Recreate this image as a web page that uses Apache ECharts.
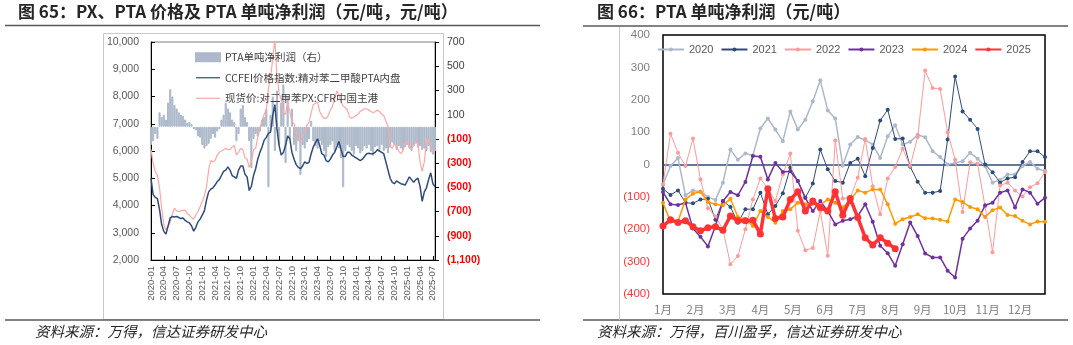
<!DOCTYPE html>
<html><head><meta charset="utf-8">
<script src="https://cdn.jsdelivr.net/npm/echarts@6/dist/echarts.min.js"></script>
<style>html,body{margin:0;padding:0;background:#fff}#c{width:1073px;height:345px}</style>
</head><body><div id="c"></div>
<script>
// ---------- Left chart (图65) : half-month steps from 2020-01 ----------
const leftTickLabels = ['2020-01','2020-04','2020-07','2020-10','2021-01','2021-04','2021-07','2021-10','2022-01','2022-04','2022-07','2022-10','2023-01','2023-04','2023-07','2023-10','2024-01','2024-04','2024-07','2024-10','2025-01','2025-04','2025-07'];
const ptaPrice = [5000,4400,4300,4250,3850,3300,3050,2950,3250,3550,
3600,3580,3600,3560,3520,3540,3450,3400,3360,3250,
3060,3200,3400,3500,3650,3800,4200,4500,4600,4650,
4750,4880,4950,5100,5250,5300,5420,5300,5100,5050,
5000,5300,5450,5450,5150,5050,4550,4700,5100,5350,
5700,5950,6150,6400,6500,6650,6700,7300,7700,6800,
6200,5850,5950,6200,6550,6450,5950,5700,5500,5400,
5350,5450,5600,5550,5580,5900,6150,6300,6450,6200,
5900,5850,5650,5600,5700,5850,5950,6150,6350,6050,
5800,5800,5950,5950,5850,5800,5750,5700,5650,5700,
5800,5900,5920,5900,5900,5950,6050,6000,5950,5900,
5600,5300,5000,4850,4800,4900,4850,4800,4780,4750,
4900,5050,4950,4850,4950,5000,4700,4150,4500,4650,
4950,5200,4800,4700];
const pxPrice = [6050,5550,5250,5100,4650,3900,3300,3100,3250,3400,
3700,3900,3800,3780,3800,3820,3830,3700,3650,3550,
3500,3650,3780,3950,4150,4350,4700,5300,5650,5600,
5650,5850,5950,6000,6050,6100,6050,6050,6150,6200,
5850,5950,6100,6050,5750,5700,5400,5600,6050,6100,
6500,6850,7100,7350,7500,8300,8700,9400,10100,8800,
8100,7900,7400,7350,7800,7450,7100,7000,6700,6400,
6350,6600,6750,6950,7050,7400,7700,7750,7800,7450,
7300,7200,7200,7300,7500,7650,7900,8200,8050,7800,
7650,7600,7500,7250,7200,7250,7300,7350,7450,7500,
7550,7550,7500,7450,7400,7450,7500,7450,7350,7300,
7100,6900,6150,6100,6250,6200,6000,5900,6000,6300,
6350,6200,6100,6200,6350,6300,5600,5250,5600,6450,
6400,6200,6000,6050];
const ptaProfit = [-150,-120,-60,-100,120,80,100,60,200,310,
250,180,150,120,100,90,60,30,40,20,
-20,-30,-80,-90,-150,-180,-160,-140,-100,-60,
-90,-40,-20,60,100,200,150,120,60,40,
-120,-60,150,180,80,40,-120,-340,-100,-60,
-80,-40,60,80,150,-500,100,250,-200,300,
-150,200,350,-300,250,-100,150,-150,-200,-120,
-400,-150,-180,-130,-100,50,-120,-160,-180,-120,
-150,-200,-250,-170,-150,-120,-200,-150,-180,-260,
-500,-200,-150,-170,-200,-230,-160,-180,-220,-200,
-160,-180,-150,-200,-240,-170,-160,-190,-150,-200,
-180,-220,-170,-130,-150,-190,-160,-180,-200,-170,
-150,-180,-200,-160,-140,-170,-160,-190,-180,-200,
-160,-210,-230,-200];
// half-month period labels (2020-01a, 2020-01b, ...)
const halfMonthPeriods = ptaProfit.map((_, i) => (2020 + Math.floor(i / 24)) + '-' + String(Math.floor(i / 2) % 12 + 1).padStart(2, '0') + (i % 2 ? 'b' : 'a'));

// ---------- Right chart (图66) : weekly ----------
const monthLabels = ['1月','2月','3月','4月','5月','6月','7月','8月','9月','10月','11月','12月'];
const yearNames = ['2020','2021','2022','2023','2024','2025'];
const y2020 = [-62,-5,20,-95,-80,-84,-100,-110,-56,46,15,34,28,111,142,108,72,164,108,138,195,260,167,142,-3,62,85,75,62,20,87,121,62,70,92,84,41,23,0,5,10,36,18,-5,-56,-48,-31,-31,-5,8,-13,-20];
const y2021 = [-75,-94,-80,-118,-120,-108,-106,-171,-113,-131,-180,-138,-138,-87,-154,-128,-89,-10,-51,-103,-59,46,-15,-51,-56,5,18,-36,51,136,169,79,80,-7,-53,-87,-87,-82,77,272,164,138,110,0,-24,-56,-43,-39,8,41,41,23];
const y2022 = [-62,95,36,-5,80,-46,-135,-160,-200,-308,-283,-200,-108,-43,-75,-113,-31,34,-205,-265,-258,-144,-282,74,-105,-103,-41,79,-67,-154,-43,-8,49,-5,85,290,236,233,100,15,-147,7,2,-130,-271,-65,-56,-80,-99,-70,-58,-24];
const y2023 = [-85,-123,-125,-118,-198,-223,-253,-190,-113,-85,-95,-54,26,24,-46,5,-23,-21,-51,-103,-144,-113,-144,-185,-174,-169,-159,-123,-177,-251,-274,-313,-246,-179,-221,-275,-287,-287,-328,-349,-229,-198,-174,-126,-118,-87,-80,-133,-77,-87,-121,-103];
const y2024 = [-118,-177,-176,-108,-90,-84,-116,-123,-126,-106,-162,-169,-190,-144,-162,-180,-144,-138,-118,-123,-121,-125,-108,-118,-133,-110,-80,-87,-77,-77,-123,-183,-169,-162,-154,-166,-167,-171,-176,-108,-116,-131,-138,-162,-141,-133,-156,-159,-174,-185,-176,-177];
const y2025 = [-190,-171,-179,-174,-192,-205,-195,-192,-203,-159,-174,-174,-172,-215,-75,-167,-162,-108,-84,-144,-113,-133,-144,-84,-157,-105,-164,-226,-249,-226,-243,-260];

const FONT = '"Liberation Sans","Noto Sans CJK SC",sans-serif';
const CJK = '"Noto Sans CJK SC",sans-serif';
const half = arr => arr.map((v, i) => [i * 0.5, v]);
const weekly = arr => arr.map((v, i) => [i, v]);
const fmtNum = v => String(Math.abs(v)).replace(/\B(?=(\d{3})+(?!\d))/g, ',');
const step = 52 / 12;
const THIN = 'path://M0,0H40V2H0Z';

const chart = echarts.init(document.getElementById('c'), null, {renderer: 'canvas'});

const rightStyles = [
  {color: '#adb9ca', width: 1.5, size: 4},
  {color: '#2f4b7c', width: 1, size: 4},
  {color: '#ff9a9a', width: 1, size: 4},
  {color: '#7030a0', width: 1.5, size: 4},
  {color: '#ff9900', width: 1.5, size: 4},
  {color: '#ff3333', width: 3.5, size: 7}
];
const rightData = [y2020, y2021, y2022, y2023, y2024, y2025];

const rightSeries = rightData.map((arr, k) => ({
  type: 'line', name: yearNames[k], xAxisIndex: 1, yAxisIndex: 2,
  data: weekly(arr), symbol: 'circle', symbolSize: rightStyles[k].size,
  lineStyle: {color: rightStyles[k].color, width: rightStyles[k].width},
  itemStyle: {color: rightStyles[k].color},
  z: 3 + k,
  markLine: k === 0 ? {silent: true, symbol: 'none', label: {show: false},
    lineStyle: {color: '#2f4b7c', width: 1.5, type: 'solid'}, data: [{yAxis: 0}], z: 2} : undefined
}));

const option = {
  animation: false,
  backgroundColor: '#fff',
  textStyle: {fontFamily: FONT},
  grid: [
    {left: 151, top: 42, width: 284, height: 218, show: true, borderColor: '#7f7f7f', borderWidth: 1},
    {left: 663, top: 35, width: 382, height: 259, show: true, borderColor: '#000', borderWidth: 1.5}
  ],
  legend: [
    {orient: 'vertical', left: 190, top: 47, itemWidth: 24, itemHeight: 8, itemGap: 10,
     textStyle: {fontSize: 10.5, color: '#404040', fontFamily: CJK},
     data: [{name: 'PTA单吨净利润（右）', icon: 'rect'},
            {name: 'CCFEI价格指数:精对苯二甲酸PTA内盘', icon: THIN},
            {name: '现货价:对二甲苯PX:CFR中国主港', icon: THIN}]},
    {orient: 'horizontal', left: 652, top: 39, itemWidth: 26, itemHeight: 5, itemGap: 7,
     textStyle: {fontSize: 11, color: '#595959', fontFamily: FONT},
     data: yearNames}
  ],
  xAxis: [
    {type: 'value', gridIndex: 0, min: 0, max: 66.5, interval: 3,
     axisLine: {show: true, onZero: false, lineStyle: {color: '#000', width: 1}},
     axisTick: {show: true, inside: true, length: 4, lineStyle: {color: '#000'}},
     splitLine: {show: false},
     axisLabel: {rotate: 90, fontSize: 9.5, color: '#595959', margin: 6, showMaxLabel: false,
       formatter: v => (Math.abs(v % 3) < 1e-6 ? (leftTickLabels[Math.round(v / 3)] || '') : '')}},
    {type: 'value', gridIndex: 1, min: 0, max: 51, interval: step,
     axisLine: {show: false, onZero: false}, axisTick: {show: false}, splitLine: {show: false},
     axisLabel: {fontSize: 11.5, color: '#808080', margin: 10, fontFamily: CJK, showMaxLabel: false,
       formatter: v => {const i = Math.round(v / step); return (Math.abs(v - i * step) < 0.1 && i < 12) ? monthLabels[i] : '';}}},
    {type: 'category', gridIndex: 0, data: halfMonthPeriods, boundaryGap: false, show: false}
  ],
  yAxis: [
    {type: 'value', gridIndex: 0, min: 2000, max: 10000, interval: 1000,
     axisLine: {show: true, lineStyle: {color: '#000'}},
     axisTick: {show: true, inside: true, length: 4, lineStyle: {color: '#000'}},
     splitLine: {show: false},
     axisLabel: {fontSize: 10.5, color: '#595959', margin: 12, formatter: v => fmtNum(v)}},
    {type: 'value', gridIndex: 0, position: 'right', min: -1100, max: 700, interval: 200,
     axisLine: {show: true, lineStyle: {color: '#000'}},
     axisTick: {show: true, inside: false, length: 4, lineStyle: {color: '#000'}},
     splitLine: {show: false},
     axisLabel: {fontSize: 10.5, margin: 12,
       formatter: v => v < 0 ? '{r|(' + fmtNum(v) + ')}' : '{n|' + fmtNum(v) + '}',
       rich: {r: {color: '#ff0000', fontSize: 10.5, fontWeight: 'bold'}, n: {color: '#404040', fontSize: 10.5}}}},
    {type: 'value', gridIndex: 1, min: -400, max: 400, interval: 100,
     axisLine: {show: false}, axisTick: {show: false}, splitLine: {show: false},
     axisLabel: {fontSize: 11.5, margin: 13,
       formatter: v => v < 0 ? '{r|(' + fmtNum(v) + ')}' : '{n|' + v + '}',
       rich: {r: {color: '#ff3333', fontSize: 11.5}, n: {color: '#808080', fontSize: 11.5}}}}
  ],
  series: [
    {type: 'bar', name: 'PTA单吨净利润（右）', xAxisIndex: 2, yAxisIndex: 1, data: ptaProfit,
     barCategoryGap: '0%', itemStyle: {color: '#adb9ca', borderColor: '#adb9ca', borderWidth: 1}, z: 1},
    {type: 'line', name: 'CCFEI价格指数:精对苯二甲酸PTA内盘', xAxisIndex: 0, yAxisIndex: 0, data: half(ptaPrice),
     symbol: 'none', lineStyle: {color: '#2f4b7c', width: 1.5}, itemStyle: {color: '#2f4b7c'}, z: 3},
    {type: 'line', name: '现货价:对二甲苯PX:CFR中国主港', xAxisIndex: 0, yAxisIndex: 0, data: half(pxPrice),
     symbol: 'none', lineStyle: {color: '#ffa6a6', width: 1.2}, itemStyle: {color: '#ffa6a6'}, z: 2}
  ].concat(rightSeries),
  graphic: [
    {type: 'text', left: 18, top: 3, style: {text: '图 65：PX、PTA 价格及 PTA 单吨净利润（元/吨，元/吨）', fill: '#262626', fontSize: 17, fontWeight: 'bold', fontFamily: CJK}},
    {type: 'text', left: 597, top: 3, style: {text: '图 66：PTA 单吨净利润（元/吨）', fill: '#262626', fontSize: 17, fontWeight: 'bold', fontFamily: CJK}},
    {type: 'line', shape: {x1: 5, y1: 25.5, x2: 540, y2: 25.5}, style: {stroke: '#595959', lineWidth: 1.5}},
    {type: 'line', shape: {x1: 583, y1: 26, x2: 1068, y2: 26}, style: {stroke: '#595959', lineWidth: 1.5}},
    {type: 'line', shape: {x1: 5, y1: 320, x2: 540, y2: 320}, style: {stroke: '#595959', lineWidth: 1.5}},
    {type: 'line', shape: {x1: 583, y1: 320, x2: 1068, y2: 320}, style: {stroke: '#595959', lineWidth: 1.5}},
    {type: 'rect', shape: {x: 103.5, y: 33.5, width: 340, height: 286}, style: {fill: 'none', stroke: '#c8c8c8', lineWidth: 1}, z: -1},
    {type: 'line', shape: {x1: 619.5, y1: 27, x2: 619.5, y2: 320}, style: {stroke: '#c8c8c8', lineWidth: 1}},
    {type: 'text', left: 35, top: 324, style: {text: '资料来源：万得，信达证券研发中心', fill: '#262626', fontSize: 14.5, fontStyle: 'italic', fontFamily: CJK}},
    {type: 'text', left: 597, top: 324, style: {text: '资料来源：万得，百川盈孚，信达证券研发中心', fill: '#262626', fontSize: 14.5, fontStyle: 'italic', fontFamily: CJK}}
  ]
};
chart.setOption(option);
</script>
</body></html>
